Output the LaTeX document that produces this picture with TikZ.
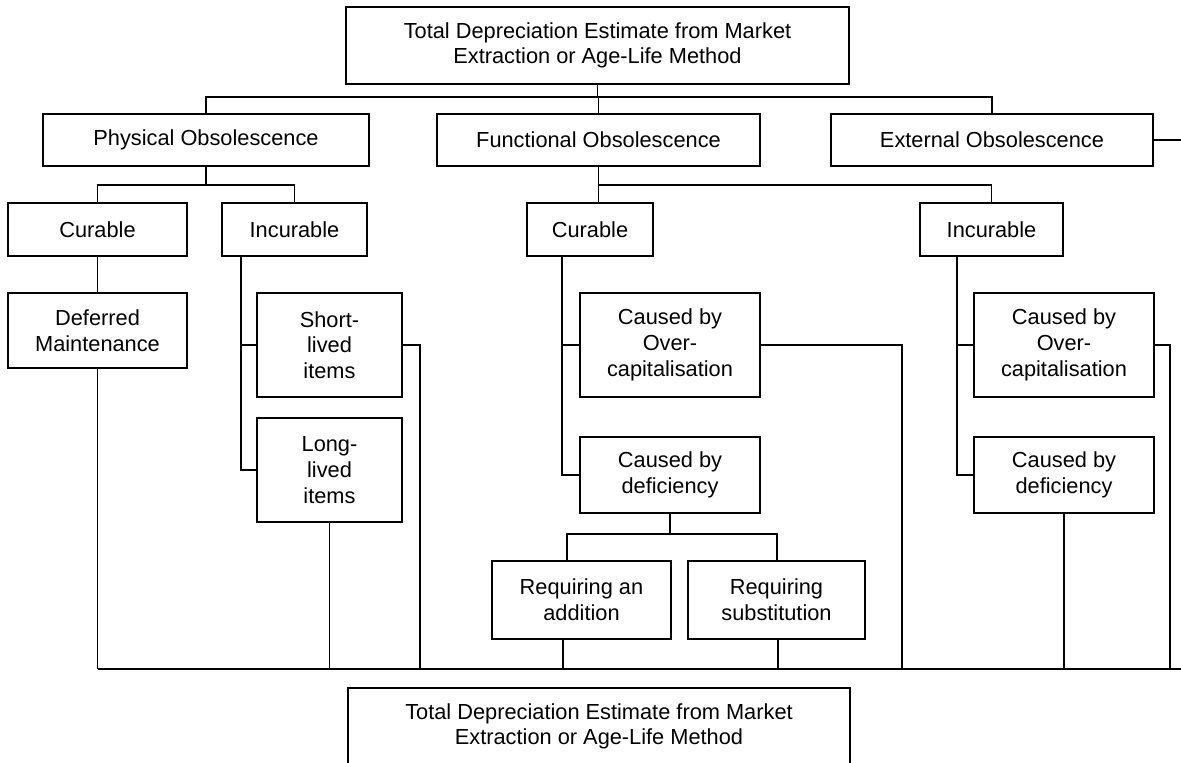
\documentclass[tikz,border=0pt]{standalone}
\usepackage{fontspec}
\setmainfont{Liberation Sans}
\usepackage{tikz}
\usetikzlibrary{positioning,calc}

\begin{document}
\begin{tikzpicture}[x=0.02cm,y=-0.02cm,line width=1.1pt,
  every node/.style={font=\fontsize{12.4}{14.6}\selectfont,align=center},
  box/.style 2 args={draw,rectangle,inner sep=0pt,minimum width=#1*0.02cm,minimum height=#2*0.02cm}]
  \useasboundingbox (0,0) rectangle (1181,762);
  \node[box={503}{77}] (top) at (597.5,45.5) {Total Depreciation Estimate from Market\\Extraction or Age-Life Method};
  \node[box={326}{52}] (phys) at (206,140) {Physical Obsolescence};
  \node[box={323}{52}] (func) at (598.5,140) {Functional Obsolescence};
  \node[box={322}{52}] (ext) at (992,140) {External Obsolescence};
  \node[box={179}{53}] (pcur) at (97.5,229.5) {Curable};
  \node[box={145}{53}] (pinc) at (294.5,229.5) {Incurable};
  \node[box={126}{53}] (fcur) at (590,229.5) {Curable};
  \node[box={143}{53}] (finc) at (991.5,229.5) {Incurable};
  \node[box={179}{75}] (defm) at (97.5,330.5) {Deferred\\Maintenance};
  \node[box={145}{104}] (short) at (329.5,345) {Short-\\lived\\items};
  \node[box={145}{104}] (long) at (329.5,470) {Long-\\lived\\items};
  \node[box={180}{104}] (fover) at (670,345) {Caused by\\Over-\\capitalisation};
  \node[box={180}{76}] (fdef) at (670,475) {Caused by\\deficiency};
  \node[box={179}{78}] (radd) at (581.5,600) {Requiring an\\addition};
  \node[box={177}{78}] (rsub) at (776.5,600) {Requiring\\substitution};
  \node[box={180}{104}] (iover) at (1064,345) {Caused by\\Over-\\capitalisation};
  \node[box={180}{76}] (idef) at (1064,475) {Caused by\\deficiency};
  \node[box={502}{77}] (bot) at (599,726.5) {Total Depreciation Estimate from Market\\Extraction or Age-Life Method};
  % bus levels and trunks
  \coordinate (topbus) at (0,97);
  \coordinate (subbus) at (0,185);
  \coordinate (defbus) at (0,534);
  \coordinate (bus) at (0,669);
  \coordinate (ptrunk) at (241,0);
  \coordinate (ftrunk) at (562,0);
  \coordinate (itrunk) at (957,0);
  \coordinate (aup) at (567,0);
  \coordinate (sup) at (777,0);
  \coordinate (adown) at (563,0);
  \coordinate (sdown) at (778,0);
  \coordinate (sdrop) at (420,669);
  \coordinate (fdrop) at (902,669);
  \coordinate (idrop) at (1170,669);
  \coordinate (busend) at (1195,669);
  \coordinate (edge) at (1195,0);
  % top level
  \draw (top.south) -- (top.south |- topbus);
  \draw (phys.north) -- (phys.north |- topbus) -| (ext.north);
  \draw (func.north) -- (func.north |- topbus);
  \draw (ext.east) -- (ext.east -| edge);
  % physical
  \draw (phys.south) -- (phys.south |- subbus) -| (pcur.north);
  \draw (phys.south |- subbus) -| (pinc.north);
  \draw (pcur) -- (defm);
  \draw (pinc.south -| ptrunk) |- (long.west);
  \draw (ptrunk |- short.west) -- (short.west);
  \draw (short.east) -| (sdrop);
  \draw (long.south) -- (long.south |- bus);
  \draw (defm.south) -- (defm.south |- bus);
  % functional
  \draw (func.south) -- (fcur.north -| func.south);
  \draw (func.south |- subbus) -| (finc.north);
  \draw (fcur.south -| ftrunk) |- (fdef.west);
  \draw (ftrunk |- fover.west) -- (fover.west);
  \draw (fover.east) -| (fdrop);
  \draw (fdef.south) -- (fdef.south |- defbus);
  \draw (radd.north -| aup) |- (defbus -| sup) -- (rsub.north -| sup);
  \draw (radd.south -| adown) -- (bus -| adown);
  \draw (rsub.south -| sdown) -- (bus -| sdown);
  \draw (finc.south -| itrunk) |- (idef.west);
  \draw (itrunk |- iover.west) -- (iover.west);
  \draw (iover.east) -| (idrop);
  \draw (idef.south) -- (idef.south |- bus);
  % bottom bus
  \draw (defm.south |- bus) -- (busend);
\end{tikzpicture}
\end{document}
